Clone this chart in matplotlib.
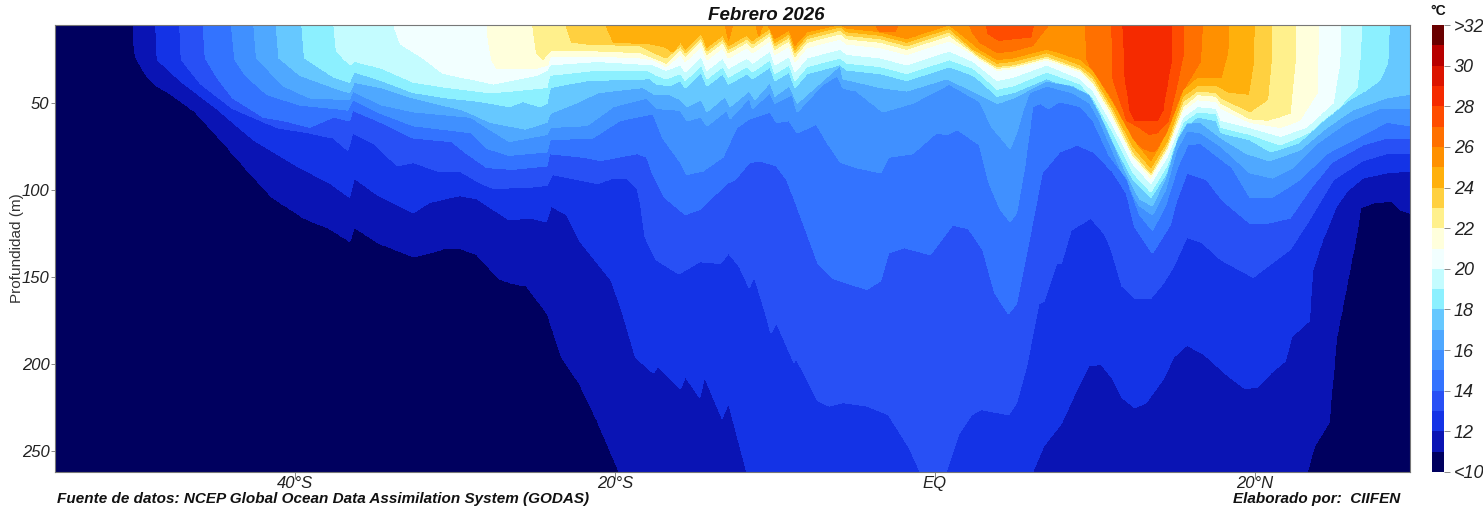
import numpy as np
import matplotlib
matplotlib.use("Agg")
import matplotlib.pyplot as plt

# Isotherm depths (m) read from the section: latitude (deg, S negative) and depth per temperature.
thermo_lat = [-15.9,-15.6,-14.6,-14.25,-13.25,-12.9,-11.75,-11.4,-10.3,-10,-9.1,-8.75,-8,-5.9,-5.5,-3.4,-1.75,-0.1,0.9,2.4,2.8,3.9,4.9,7]

iso11_lat = [-50.1,-50,-49.9,-49.2,-48.6,-47.7,-46.2,-45,-43.1,-41.4,-39.4,-37.8,-36.6,-36.3,-34.8,-32.6,-31.6,-30.6,-29.7,-28.6,-27.2,-26.5,-25.5,-24.2,-23.3,-22.2,-21.1,-19.7,-19.4,22.9,23.25,23.7,24.6,25.1,25.5,26.3,26.6,27.4,28.6,29.1,29.7]
iso11_dep = [0,20,24,35,40,45,55,67,87,104,116,122,129,121,130,138,136,133,133,137,151,153,155,171,196,211,232,262,300,300,262,247,234,184,165,127,110,107,106,111,113]

iso12_lat = [-48.7,-48.6,-47.2,-44.9,-42.6,-39.7,-37.8,-36.6,-36.3,-34.8,-32.6,-31.6,-29.7,-28.6,-26.6,-25.3,-24.3,-24,-23,-22.2,-20.2,-19.5,-18.7,-17.6,-17.3,-15.9,-15.6,-14.7,-14.4,-13.3,-12.9,-11.75,-11.4,5.8,6.1,6.8,7.9,8.9,9.6,10.4,11.1,11.7,12.5,13.2,14.3,14.9,15.75,16.8,18.25,19.4,20.2,21,21.9,22.3,23.4,23.6,24.2,25.1,25.8,26.75,28.25,29.7]
iso12_dep = [0,25,37,53,71,87,96,104,93,103,113,107,103,105,117,116,118,109,114,129,152,171,196,205,201,214,207,219,207,231,222,262,300,300,262,247,234,214,201,200,208,219,225,222,208,196,189,194,206,214,213,205,198,184,175,146,129,109,100,93,90,89]

iso13_lat = [-47.2,-47.1,-45.9,-43.9,-41.1,-39.1,-37.6,-36.7,-36.4,-35.1,-33.6,-32.6,-31.1,-29.7,-28.4,-27.6,-24.9,-24.25,-23.9,-22.8,-21.1,-20.1,-19.25,-18.6,-18.4,-18.1,-17.4,-16,-14.7,-13.4,-12.9,-12.2,-11.6,-11.3,-10.5,-10.25,-9.9,-8.8,-8.7,-7.3,-6.6,-5.75,-4.25,-2.9,-1.6,-0.9,-0.6,0.4,0.7,1.5,2.3,2.9,4.6,5.1,5.7,6.5,6.8,7.6,7.9,8.5,9.75,10.6,11,11.7,12.5,13.5,14.3,14.9,15.75,16.7,17.9,19.9,20.75,22.2,23.4,24.9,26.75,28.25,29.7]
iso13_dep = [0,25,39,53,64,67,70,77,67,73,86,84,89,89,96,99,98,97,91,93,96,93,93,99,107,127,140,148,141,142,136,144,156,149,173,182,176,199,196,221,224,222,224,229,248,262,300,300,262,240,229,226,229,222,202,165,164,142,142,123,116,125,133,155,162,162,153,144,127,130,140,150,144,134,117,94,83,79,79]

iso14_lat = [-45.75,-45.6,-44.9,-43.9,-42,-40.3,-39.1,-37.6,-36.6,-36.4,-34.6,-32.6,-30.2,-29.25,-28,-26.4,-24.25,-24.1,-22,-20.9,-18.6,-18,-17.7,-16.9,-15.6,-14.7,-13,-12.5,-11.6,-10.9,-9.9,-9.25,-8.7,-7.3,-6.3,-4.25,-3.4,-2.9,-1.9,-0.3,1.1,2.1,3,3.75,4.6,5.1,5.8,6.7,7.8,8.9,9.9,11.1,12,12.5,13.6,14.7,15.1,15.75,17,18,19.7,20.75,22.2,23.4,24.8,26.75,28.25,29.7]
iso14_dep = [0,24,35,47,58,61,64,58,60,54,61,70,72,79,87,88,86,79,81,83,79,81,89,104,114,111,96,94,84,83,86,94,107,142,151,157,152,136,133,137,120,122,134,159,171,165,133,90,78,74,78,89,102,121,136,120,106,90,94,106,119,119,116,100,84,74,70,70]

iso15_lat = [-44,-43.75,-43.1,-41.75,-39.7,-37.6,-36.7,-36.4,-34.6,-32.6,-29,-28,-26.6,-24.25,-24.06,-21.4,-19.7,-17.6,-17,-15.9,-15.5,-14.5,-13.25,-12.4,-11.6,-10.3,-9.9,-9.1,-8.6,-7.4,-6.7,-5.9,-4.9,-3.4,-2.9,-1.4,0.1,0.75,1.4,2.8,3.4,4.1,4.7,5.1,5.6,6.1,6.6,7.1,7.8,9.1,9.9,10.9,12,12.8,13.6,14.4,15.2,15.8,16.6,18.6,19.7,21.1,22.8,24.5,26.4,28.25,29.7]
iso15_dep = [0,25,34,45,51,53,54,48,56,63,67,76,80,78,71,70,60,56,70,84,91,89,81,64,59,55,61,60,67,62,73,84,87,90,81,79,67,68,65,74,96,111,118,113,87,52,50,53,49,52,60,80,93,114,123,109,86,74,73,87,104,104,94,79,70,61,63]

iso16_lat = [-42.6,-42.4,-40.75,-39.1,-36.6,-36.4,-34.6,-32.6,-29,-28,-26.6,-24.25,-24.06,-21.75,-20.1,-18,-17.4,-15.9,-15.5,-14.6,-14.25,-13,-12.8,-11.6,-11.4,-10.3,-10,-8.9,-8.6,-7,-6.1,-5.75,-4.9,-3.25,-1.4,0.9,2.8,3.6,4.7,5.1,5.5,5.9,7,8.6,9.7,10.3,11.1,12,12.8,13.6,14.4,15.1,15.75,16.6,17.9,19.7,21.1,22.4,23.9,25.75,27.8,29.7]
iso16_dep = [0,24,40,47,48,43,51,55,58,64,72,68,64,63,52,47,53,54,60,58,63,54,59,47,53,44,50,45,55,39,34,41,43,55,50,39,49,64,76,67,54,44,40,44,50,60,77,97,109,114,100,77,66,67,75,90,93,87,73,61,53,53]

iso17_lat = [-41.2,-41,-39.7,-37.6,-36.6,-36.3,-34.6,-32.6,-29.5,-27.8,-25.6,-24.25,-24.06,-22.2,-21.1,-18.25,-17.5,-16.6,-15.9,-15.5,-14.6,-14.25,-13.1,-12.8,-11.6,-11.25,-10.3,-10,-9.1,-8.6,-7,-5.9,-5.75,-3.4,-1.75,0.75,2.8,3.9,4.9,7,8.6,9.7,10.3,11.1,12,12.8,13.6,14.4,15.1,15.75,16.6,17.9,19.5,20.9,22.8,24.5,26.1,28.25,29.7]
iso17_dep = [0,24,34,41,44,38,41,47,54,61,65,61,56,49,44,41,45,45,48,52,48,55,46,52,43,48,38,46,40,50,37,28,36,41,43,36,45,50,47,37,40,45,55,71,91,105,109,93,71,61,61,70,79,83,77,64,54,47,45]

iso18_lat = [-39.6,-39.4,-37.6,-36.6,-36.3,-34.6,-32.6,-30.5,-28.4,-26.6,-25.75,-24.7,-24.25,-24.06,-21.75,-17.8,-17.4,-16.6] + thermo_lat + [9.1,9.9,11.1,12.4,13.5,14.5,15.5,16.4,17.6,17.9,19.7,21,22.7,24.25,25.9,26.9,27.8,28.3,28.4]
iso18_dep = [0,24,35,38,32,37,44,47,49,52,49,52,50,41,37,36,39,40] + [37,41,32,40,33,39,33,36,29,37,32,41,33,28,31,33,37,32,29,34,37,46,44,36] + [44,52,72,94,104,90,65,58,60,67,71,78,73,60,48,43,37,27,0]

iso19_lat = [-37.6,-37.4,-36.9,-36.5,-36.3,-34.6,-32.6,-30.5,-27.8,-26.4,-24.25,-24.1,-21.1,-18,-17.4,-16.8] + thermo_lat + [9.1,9.9,11.1,12.4,13.5,14.5,15.5,16.4,17.6,17.9,19.7,21.6,23.4,25.1,26.4,26.6,26.65]
iso19_dep = [0,20,25,28,26,30,38,41,44,43,41,34,31,31,34,36] + [33,37,28,36,29,35,29,32,25,33,28,37,29,24,27,29,33,28,25,30,33,42,40,32] + [39,47,66,90,101,86,61,55,56,64,68,74,67,54,41,21,0]

iso20_lat = [-34,-33.4,-32,-30.75,-27.6,-24.9,-24.25,-24.06,-21.1,-17.6,-16.8] + thermo_lat + [9.1,9.9,11.1,12.4,13.5,14.5,15.5,16.4,17.6,17.9,19.7,21.6,23.2,24.9,25.3,25.35]
iso20_dep = [0,16,24,33,39,34,31,28,26,28,31] + [28,32,23,31,24,30,24,27,20,28,23,32,24,19,22,24,28,23,20,26,29,37,35,28] + [36,43,62,85,96,81,58,52,53,60,64,69,64,50,27,0]

iso21_lat = [-28,-27.9,-27.7,-27.4,-24.9,-24.2,-24.06,-21.1,-18.4,-17.6,-16.8] + thermo_lat + [9.1,9.9,11.1,12.4,13.5,14.5,15.5,16.4,17.6,17.9,19.7,21.6,22.8,23.9,23.95,24]
iso21_dep = [0,14,25,30,30,28,23,23,24,25,29] + [22,26,17,25,18,24,18,21,14,22,17,26,18,13,16,18,22,17,14,22,25,31,30,25] + [32,39,58,81,93,77,54,48,49,53,61,64,60,44,14,0]

iso22_lat = [-25.2,-24.9,-24.5,-24.06,-21.1,-18.4,-17.6,-16.8] + thermo_lat + [9.1,9.9,11.1,12.4,13.5,14.5,15.5,16.4,17.6,17.9,19.7,20.8,22.2,22.5,22.55]
iso22_dep = [0,21,25,20,20,21,24,27] + [19,23,14,22,15,21,15,18,11,19,14,23,15,10,13,15,19,14,11,21,24,30,29,24] + [31,38,56,80,91,76,52,45,46,50,59,60,56,27,0]

iso23_lat = [-23.25,-22.7,-21.75,-18.4,-17.6,-16.8] + thermo_lat + [9.1,9.9,11.1,12.4,13.5,14.5,15.5,16.4,17.6,17.9,19.7,20.8,21,21.05]
iso23_dep = [0,15,16,17,21,24] + [17,21,12,20,13,19,13,16,9,17,12,21,13,8,11,13,17,12,9,20,23,29,28,23] + [30,36,54,78,90,74,49,43,44,47,55,48,27,0]

iso24_lat = [-20.8,-20.1,-17.8,-16.8,-16.4] + thermo_lat + [9.1,9.9,11.1,12.4,13.5,14.5,15.5,16.4,17.6,17.9,18.4,19.6,19.9,19.95]
iso24_dep = [0,15,16,18,21] + [15,19,10,18,11,17,11,14,7,15,10,19,11,6,9,11,15,10,7,19,21,27,26,21] + [28,34,52,75,87,72,46,40,40,41,44,45,27,0]

iso25_lat = [-13.2,-12.9,-12.5,-11.3,-11,-10.6,-10.4,-10,-9.1,-8.75,-8,-5.9,-5.5,-3.4,-1.75,-0.1,0.9,2.4,2.8,3.9,4.9,7,9.1,9.9,11.1,12.4,13.5,14.5,15.5,16.4,17.9,18.3,18.35]
iso25_dep = [0,14,0,0,12,0,6,13,8,17,9,5,7,9,13,8,5,16,19,25,24,19,25,31,48,70,83,66,42,35,35,21,0]

iso26_lat = [-3.9,-3.5,-2.5,-2,1.9,2.4,2.8,3.9,4.9,6.1,7.1,7.15,9.4,9.5,10,10.9,12,13,13.6,14,14.9,15.5,15.75,16.6,16.7,16.75]
iso26_dep = [0,9,9,0,0,10,15,21,20,17,5,0,0,25,35,52,68,76,78,76,64,48,39,26,6,0]

iso27_lat = [3.2,3.3,4,6,6.25,11.05,11.1,11.15,12,12.8,13.4,13.9,14.6,15.1,15.5,15.55]
iso27_dep = [0,10,14,12,0,0,14,37,60,64,68,67,60,41,23,0]

iso28_lat = [11.75,11.85,11.9,12.2,12.5,13.9,14.25,14.75,14.8]
iso28_dep = [0,21,36,54,60,60,54,27,0]

isotherm_temps = [11,12,13,14,15,16,17,18,19,20,21,22,23,24,25,26,27,28]
isotherm_lats = [iso11_lat,iso12_lat,iso13_lat,iso14_lat,iso15_lat,iso16_lat,iso17_lat,iso18_lat,iso19_lat,iso20_lat,iso21_lat,iso22_lat,iso23_lat,iso24_lat,iso25_lat,iso26_lat,iso27_lat,iso28_lat]
isotherm_deps = [iso11_dep,iso12_dep,iso13_dep,iso14_dep,iso15_dep,iso16_dep,iso17_dep,iso18_dep,iso19_dep,iso20_dep,iso21_dep,iso22_dep,iso23_dep,iso24_dep,iso25_dep,iso26_dep,iso27_dep,iso28_dep]

levels = list(range(10, 33))
band_colors = ['#00005f','#0a14b4','#1433e6','#2850f5','#3373ff','#4090ff','#4fa8ff','#66c8ff','#8cf0ff','#c4fcff','#f2ffff',
               '#ffffdc','#fff08c','#ffd040','#ffb00c','#ff9000','#ff7000','#ff4c00','#f52a00','#dc1400','#b80000','#6a0000']
cbar_tick_values = [10,12,14,16,18,20,22,24,26,28,30,32]
cbar_tick_labels = ['<10','12','14','16','18','20','22','24','26','28','30','>32']
lat_ticks = [-40,-20,0,20]
lat_labels = ['40°S','20°S','EQ','20°N']
depth_ticks = [50,100,150,200,250]

# Temperature section built from the isotherm depths
lat_grid = np.arange(-55, 29.71, 0.05)
depth_grid = np.arange(0, 265, 0.5)
D = np.array([np.interp(lat_grid, la, de) for la, de in zip(isotherm_lats, isotherm_deps)])
D = np.minimum.accumulate(D, axis=0)
temps = np.array(isotherm_temps, dtype=float)
T = np.zeros((depth_grid.size, lat_grid.size))
for j in range(lat_grid.size):
    xp = D[::-1, j] + np.arange(temps.size) * 1e-3
    xp = np.concatenate(([-1.0], xp, [1000.0]))
    fp = np.concatenate(([28.5], temps[::-1], [10.5]))
    T[:, j] = np.interp(depth_grid, xp, fp)

W, H = 1483, 511
fig = plt.figure(figsize=(W/100, H/100), dpi=100, facecolor='white')
plt.rcParams['font.family'] = ['Liberation Sans', 'DejaVu Sans']
ax = fig.add_axes([55/W, 1-472/H, (1410-55)/W, (472-25)/H])
cf = ax.contourf(lat_grid, depth_grid, T, levels=levels, colors=band_colors, extend='neither')
cf.set_edgecolor('face')
cf.set_linewidth(0.3)
ax.set_xlim(-55, 29.7)
ax.set_ylim(262, 5.2)
ax.set_xticks(lat_ticks)
ax.set_xticklabels(lat_labels, fontstyle='italic', fontsize=12, color='#222222')
ax.set_yticks(depth_ticks)
ax.set_yticklabels([str(v) for v in depth_ticks], fontstyle='italic', fontsize=12, color='#222222')
ax.tick_params(axis='x', length=5, width=0.6, color='#777777', pad=-2)
ax.tick_params(axis='y', length=3, width=0.6, color='#777777', pad=1)
for s in ax.spines.values():
    s.set_color('#777777')
    s.set_linewidth(0.8)
fig.text(17/W, 1-248/H, 'Profundidad (m)', rotation=90, ha='center', va='center', fontsize=11, color='#333333')
fig.text(766/W, 1-15/H, 'Febrero 2026', ha='center', va='center', fontsize=13.5, fontweight='bold', fontstyle='italic', color='#111111')
fig.text(57/W, 1-499/H, 'Fuente de datos: NCEP Global Ocean Data Assimilation System (GODAS)', ha='left', va='center', fontsize=11, fontweight='bold', fontstyle='italic', color='#111111')
fig.text(1400/W, 1-499/H, 'Elaborado por:  CIIFEN', ha='right', va='center', fontsize=11, fontweight='bold', fontstyle='italic', color='#111111')

cax = fig.add_axes([1432/W, 1-472/H, 12/W, (472-25)/H])
cb = fig.colorbar(cf, cax=cax, ticks=cbar_tick_values, drawedges=False)
cb.ax.set_yticklabels(cbar_tick_labels, fontstyle='italic', fontsize=13, color='#222222')
cb.ax.tick_params(length=4, width=0.6, color='#777777', pad=3)
cb.outline.set_visible(False)
fig.text(1438/W, 1-11/H, '°C', ha='center', va='center', fontsize=10, fontweight='bold', color='#111111')

fig.savefig('out.png', dpi=100)
